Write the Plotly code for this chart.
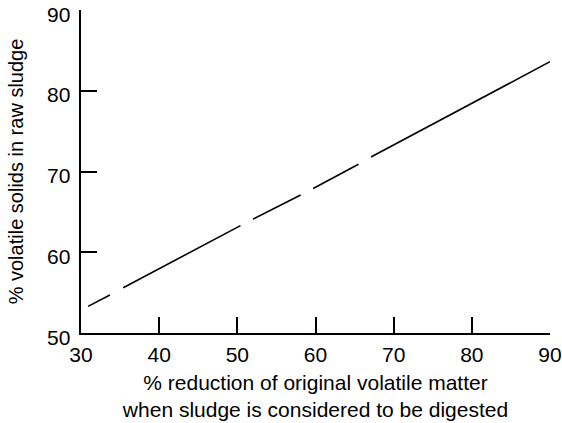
import plotly.graph_objects as go

# Line (gaps shown as None)
x_vals = [30.9, 33.7, None, 35.4, 50.4, None, 52.0, 58.1, None, 59.7, 65.5, None, 67.1, 90.0]
y_vals = [53.3, 54.7, None, 55.6, 63.3, None, 64.1, 67.1, None, 67.9, 70.9, None, 71.8, 83.6]

x_ticks = [30, 40, 50, 60, 70, 80, 90]
y_ticks = [50, 60, 70, 80, 90]

x_title = "% reduction of original volatile matter<br>when sludge is considered to be digested"
y_title = "% volatile solids in raw sludge"

font_family = "Liberation Sans, Arial, sans-serif"

fig = go.Figure()
fig.add_trace(go.Scatter(x=x_vals, y=y_vals, mode="lines",
                         line=dict(color="black", width=1.6),
                         connectgaps=False, showlegend=False, hoverinfo="skip"))

# y tick labels as annotations (sit slightly below their ticks, as in the reference)
for v in y_ticks:
    fig.add_annotation(x=0, xref="paper", xanchor="right", xshift=-9,
                       y=v, yref="y", yanchor="middle", yshift=-4,
                       text=str(v), showarrow=False,
                       font=dict(size=21, family=font_family, color="black"))

fig.update_layout(
    width=562, height=423,
    margin=dict(l=81, r=12, t=10, b=90),
    paper_bgcolor="white", plot_bgcolor="white",
    font=dict(family=font_family, color="black", size=21),
    xaxis=dict(range=[30, 90], tickvals=x_ticks, ticktext=[str(v) for v in x_ticks],
               showline=True, linecolor="black", linewidth=1.6,
               ticks="inside", ticklen=16, tickwidth=1.6, tickcolor="black",
               showgrid=False, zeroline=False, automargin=False,
               ticklabeloverflow="allow", ticklabelstandoff=2,
               tickfont=dict(size=21),
               title=dict(text=x_title, font=dict(size=21), standoff=10)),
    yaxis=dict(range=[50, 90], tickvals=y_ticks, showticklabels=False,
               showline=True, linecolor="black", linewidth=1.6,
               ticks="inside", ticklen=16, tickwidth=1.6, tickcolor="black",
               showgrid=False, zeroline=False, automargin=False,
               title=dict(text=y_title, font=dict(size=20), standoff=50)),
)

fig.write_html("out.html")
